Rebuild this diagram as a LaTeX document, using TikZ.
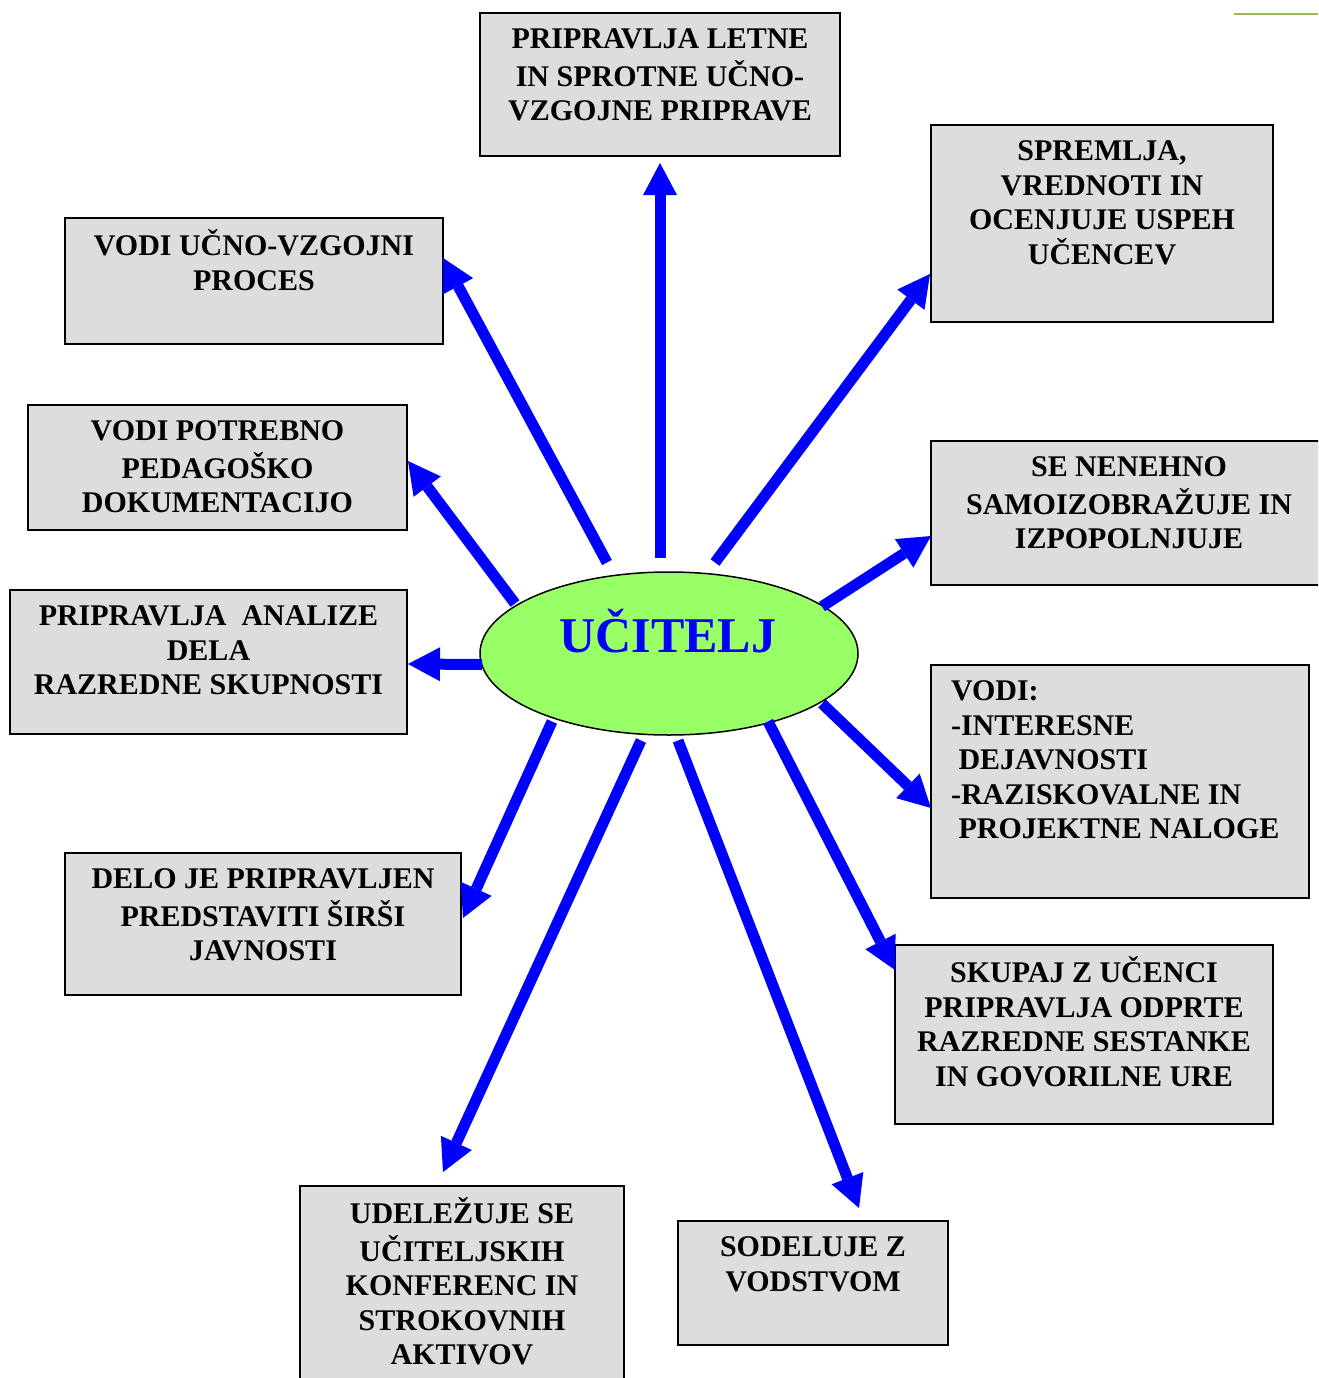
\documentclass[tikz,border=0pt]{standalone}
\usepackage{fontspec}
\setmainfont{Liberation Serif}
\usetikzlibrary{arrows.meta,shapes.geometric,calc}
\definecolor{boxgray}{RGB}{221,221,221}
\definecolor{elgreen}{RGB}{153,255,102}
\definecolor{topline}{RGB}{155,187,89}
\newcommand\bxc[3]{\parbox[c][#2][t]{#1}{\vspace*{11.8pt}\centering\strut #3}}
\newcommand\bxl[3]{\parbox[c][#2][t]{#1}{\vspace*{11.8pt}\raggedright\leftskip=20pt\strut #3}}
\tikzset{
  bx/.style={draw=black, line width=1.6pt, fill=boxgray, inner sep=0pt, outer sep=0pt,
    anchor=north west, font=\fontsize{30}{34.5}\selectfont\bfseries},
  arr/.style={draw=blue, line width=11pt, -{Triangle[length=32pt,width=34pt,line width=0pt]}},
  ell/.style={ellipse, draw=black, line width=1.5pt, fill=elgreen, minimum width=378pt,
    minimum height=163pt, inner sep=0pt},
  uctext/.style={font=\fontsize{50}{60}\selectfont\bfseries, text=blue, anchor=base, inner sep=0pt}
}
\begin{document}
\begin{tikzpicture}[x=1pt,y=-1pt]
\path[use as bounding box, clip] (0,0) rectangle (1318,1378);
\fill[white] (0,0) rectangle (1318,1378);
\draw[topline, line width=2pt] (1234,14) -- (1318,14);

\node[bx] (top) at (480,13) {\bxc{360pt}{143pt}{PRIPRAVLJA LETNE\\IN SPROTNE UČNO-\\VZGOJNE PRIPRAVE}};
\node[bx] (spr) at (931,125) {\bxc{342pt}{197pt}{SPREMLJA,\\VREDNOTI IN\\OCENJUJE USPEH\\UČENCEV}};
\node[bx] (vuc) at (65,218) {\bxc{378pt}{126pt}{VODI UČNO-VZGOJNI\\PROCES}};
\node[bx] (vpd) at (28,405) {\bxc{379pt}{125pt}{VODI POTREBNO\\PEDAGOŠKO\\DOKUMENTACIJO}};
\node[bx] (sen) at (931,441) {\bxc{396pt}{144pt}{SE NENEHNO\\SAMOIZOBRAŽUJE IN\\IZPOPOLNJUJE}};
\node[bx] (ana) at (10,590) {\bxc{397pt}{144pt}{PRIPRAVLJA\ \ ANALIZE\\DELA\\RAZREDNE SKUPNOSTI}};
\node[bx] (vodi) at (931,665) {\bxl{378pt}{233pt}{VODI:\\-INTERESNE\\\hspace*{7.5pt}DEJAVNOSTI\\-RAZISKOVALNE IN\\\hspace*{7.5pt}PROJEKTNE NALOGE}};
\node[bx] (delo) at (65,853) {\bxc{396pt}{142pt}{DELO JE PRIPRAVLJEN\\PREDSTAVITI ŠIRŠI\\JAVNOSTI}};
\node[bx] (skup) at (895,945) {\bxc{378pt}{179pt}{SKUPAJ Z UČENCI\\PRIPRAVLJA ODPRTE\\RAZREDNE SESTANKE\\IN GOVORILNE URE}};
\node[bx] (udel) at (300,1186) {\bxc{324pt}{215pt}{UDELEŽUJE SE\\UČITELJSKIH\\KONFERENC IN\\STROKOVNIH\\AKTIVOV}};
\node[bx] (sod) at (678,1221) {\bxc{270pt}{124pt}{SODELUJE Z\\VODSTVOM}};

\node[ell] (uc) at (669,653.5) {};
\node[uctext] (ucl) at (668,652) {UČITELJ};

\draw[arr] ($(uc.center)+(-9,-96)$) -- ($(top.north west)+(180,150)$);
\draw[arr] ($(uc.center)+(46,-91)$) -- ($(spr.north west)+(-1,149)$);
\draw[arr] ($(uc.center)+(-62,-91)$) -- ($(vuc.north west)+(378,40)$);
\draw[arr] ($(uc.center)+(-154,-50)$) -- ($(vpd.north west)+(380,56)$);
\draw[arr] ($(uc.center)+(153,-47)$) -- ($(sen.north west)+(0,95)$);
\draw[arr] ($(uc.center)+(-187,11)$) -- ($(ana.north west)+(398,74)$);
\draw[arr] ($(uc.center)+(153,50)$) -- ($(vodi.north west)+(0,143)$);
\draw[arr] ($(uc.center)+(-117,68)$) -- ($(delo.north west)+(398,65)$);
\draw[arr] ($(uc.center)+(99,68)$) -- ($(skup.north west)+(0,25)$);
\draw[arr] ($(uc.center)+(-28,87)$) -- ($(udel.north west)+(143,-14)$);
\draw[arr] ($(uc.center)+(9,87)$) -- ($(sod.north west)+(181,-13)$);
\end{tikzpicture}
\end{document}
